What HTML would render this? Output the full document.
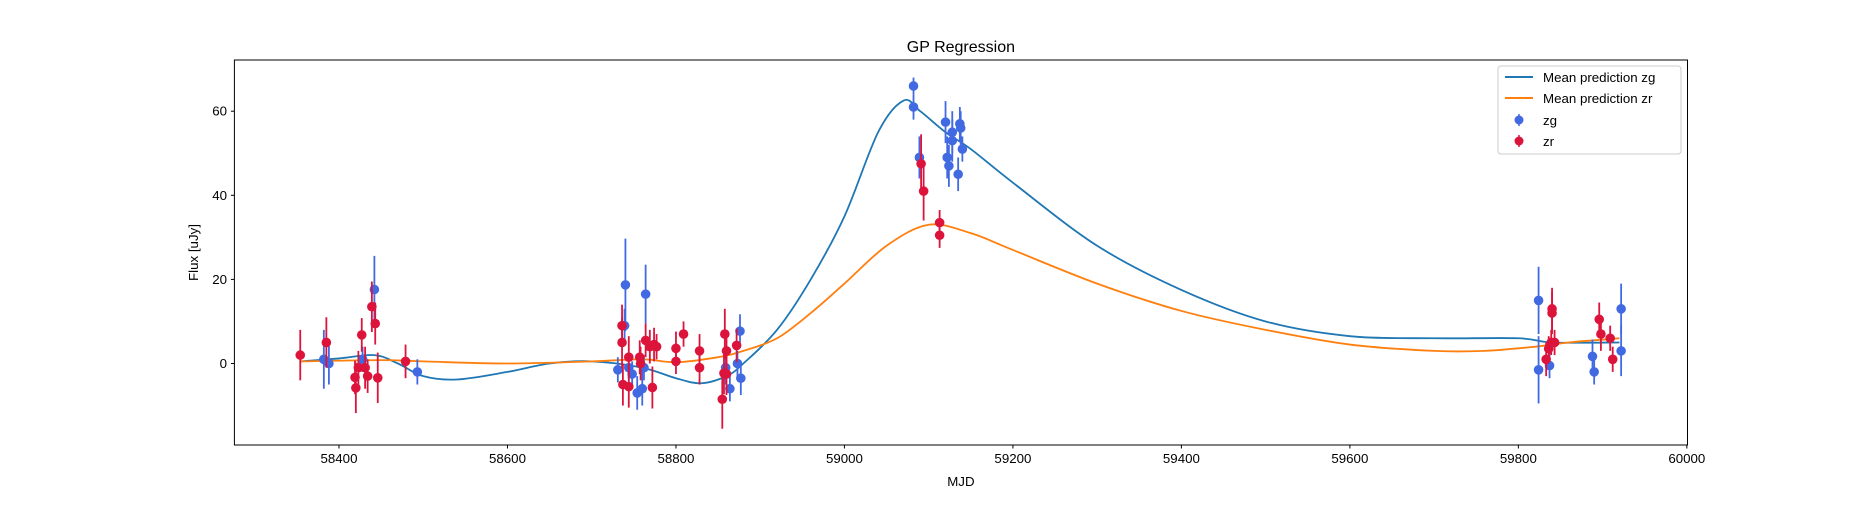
<!DOCTYPE html>
<html><head><meta charset="utf-8"><style>
body{margin:0;background:#fff}
svg text{font-family:"Liberation Sans","DejaVu Sans",sans-serif;fill:#000}
</style></head><body>
<svg id="chart" width="1875" height="500" xmlns="http://www.w3.org/2000/svg">
<rect width="1875" height="500" fill="#fff"/>
<g id="marks"></g>
<rect x="234.4" y="60" width="1453.1" height="385" fill="none" stroke="#000" stroke-width="1"/>
<g id="axes"></g>
<text x="960.9" y="52" font-size="16" text-anchor="middle">GP Regression</text>
<text x="960.9" y="486" font-size="13.3" text-anchor="middle">MJD</text>
<text transform="translate(198,252.5) rotate(-90)" font-size="13.3" text-anchor="middle">Flux [uJy]</text>
<g>
<rect x="1498" y="66" width="183" height="88" rx="3" fill="#fff" fill-opacity="0.8" stroke="#ccc"/>
<line x1="1505" y1="77" x2="1533" y2="77" stroke="#1f77b4" stroke-width="2"/>
<text x="1543" y="82" font-size="13.3">Mean prediction zg</text>
<line x1="1505" y1="98" x2="1533" y2="98" stroke="#ff7f0e" stroke-width="2"/>
<text x="1543" y="103" font-size="13.3">Mean prediction zr</text>
<line x1="1519" y1="114" x2="1519" y2="126" stroke="#4169e1" stroke-width="1.5"/>
<circle cx="1519" cy="120" r="4.5" fill="#4169e1"/>
<text x="1543" y="125" font-size="13.3">zg</text>
<line x1="1519" y1="135" x2="1519" y2="147" stroke="#dc143c" stroke-width="1.5"/>
<circle cx="1519" cy="141" r="4.5" fill="#dc143c"/>
<text x="1543" y="146" font-size="13.3">zr</text>
</g>
</svg>
<script>
const xTicks=[58400,58600,58800,59000,59200,59400,59600,59800,60000];
const yTicks=[0,20,40,60];
const zgMjd=[58382,58388,58428,58442,58493,58731,58740,58739,58744,58748,58754,58760,58764,58762,58859,58864,58873,58877,58876,59082,59082,59089,59120,59122,59124,59128,59128,59135,59137,59138,59140,59824,59824,59837,59888,59890,59922,59922];
const zgFlux=[1,0,1,17.6,-2,-1.5,18.7,9,-1,-2.5,-7,-6,16.5,-1,-1,-6,0,-3.5,7.7,66,61,49,57.4,49,47,55,53,45,57,56,51,15,-1.5,-0.5,1.7,-2,13,3];
const zgErr=[7,5,3,8,3,3,11,4,3,3,4,4,7,3,4,3,3,4,4,2,3,5,5,5,5,5,5,4,4,4,3,8,8,3,4,3,6,6];
const zrMjd=[58354,58385,58419,58420,58423,58427,58431,58434,58439,58443,58446,58479,58736,58736,58737,58744,58744,58757,58758,58764,58769,58772,58774,58777,58800,58800,58809,58828,58828,58855,58857,58858,58860,58860,58872,59091,59094,59113,59113,59833,59836,59840,59840,59839,59843,59896,59898,59909,59912];
const zrFlux=[2,5,-3.3,-5.8,-1,6.8,-1,-3,13.5,9.5,-3.4,0.5,5,9,-5,-5.5,1.5,1.5,0,5.5,4,-5.7,4.5,4,3.6,0.5,7,3,-1,-8.5,-2.3,7,3,-2.5,4.3,47.5,41,33.5,30.5,1,3.5,13,12,5,5,10.5,7,6,1];
const zrErr=[6,6,4,6,4,4,5,4,6,5,6,4,6,5,5,5,5,4,4,4,4,5,4,3,4,3,3,4,4,7,5,6,5,5,4,7,7,3,3,4,3,5,5,3,3,4,4,3,3];
const meanZgMjd=[58354,58400,58442,58470,58500,58540,58600,58650,58700,58760,58800,58830,58860,58880,58920,58960,59000,59040,59070,59090,59120,59150,59200,59300,59400,59500,59600,59700,59800,59840,59920];
const meanZg=[0.5,1.2,2,0,-3,-3.8,-2,0,0.5,-1,-3.5,-4.7,-3,0,8,20,35,55,62.5,60,55,51,43,28,17.5,10,6.5,6,6,5,5];
const meanZrMjd=[58354,58450,58500,58600,58700,58760,58800,58850,58880,58920,58960,59000,59050,59100,59150,59200,59300,59400,59500,59600,59700,59760,59820,59860,59920];
const meanZr=[0.5,0.8,0.5,0,0.5,1,0.3,1.5,3,6,12,19,28,33,31,27,19,12.5,8,4.5,3,3,4,5,6];

const X=m=>339.0+(m-58400)*0.8424;
const Y=v=>363.5-v*4.205;
const NS="http://www.w3.org/2000/svg";
const axes=document.getElementById('axes'), marks=document.getElementById('marks');
function mk(t,a,p){const e=document.createElementNS(NS,t);for(const k in a)e.setAttribute(k,a[k]);p.appendChild(e);return e;}
xTicks.forEach(t=>{
  const l=mk('line',{x1:X(t),x2:X(t),y1:445,y2:448.5,stroke:'#000'},axes);
  
  
  const tx=mk('text',{x:X(t),y:463,'font-size':13.3,'text-anchor':'middle'},axes);tx.textContent=t;
  
  
});
yTicks.forEach(t=>{
  const l=mk('line',{x1:230.9,x2:234.4,y1:Y(t),y2:Y(t),stroke:'#000'},axes);
  
  
  const tx=mk('text',{x:227,y:Y(t)+4.5,'font-size':13.3,'text-anchor':'end'},axes);tx.textContent=t;
  
  
});
function curve(xs,ys){
  const p=xs.map((m,i)=>[X(m),Y(ys[i])]);
  let d='M'+p[0][0]+','+p[0][1];
  for(let i=0;i<p.length-1;i++){
    const p0=p[i-1]||p[i],p1=p[i],p2=p[i+1],p3=p[i+2]||p[i+1];
    const c1=[p1[0]+(p2[0]-p0[0])/6,p1[1]+(p2[1]-p0[1])/6];
    const c2=[p2[0]-(p3[0]-p1[0])/6,p2[1]-(p3[1]-p1[1])/6];
    d+=`C${c1[0]},${c1[1]} ${c2[0]},${c2[1]} ${p2[0]},${p2[1]}`;
  }
  return d;
}
const lz=mk('path',{d:curve(meanZgMjd,meanZg),fill:'none',stroke:'#1f77b4','stroke-width':1.8},marks);


const lr=mk('path',{d:curve(meanZrMjd,meanZr),fill:'none',stroke:'#ff7f0e','stroke-width':1.8},marks);


function pts(ms,fs,es,col,name){
  ms.forEach((m,i)=>{
    const g=mk('g',{},marks);
    
    
    mk('line',{x1:X(m),x2:X(m),y1:Y(fs[i]-es[i]),y2:Y(fs[i]+es[i]),stroke:col,'stroke-width':1.8},g);
    mk('circle',{cx:X(m),cy:Y(fs[i]),r:4.8,fill:col},g);
  });
}
pts(zgMjd,zgFlux,zgErr,'#4169e1','zg-point');
pts(zrMjd,zrFlux,zrErr,'#dc143c','zr-point');
</script>
</body></html>
